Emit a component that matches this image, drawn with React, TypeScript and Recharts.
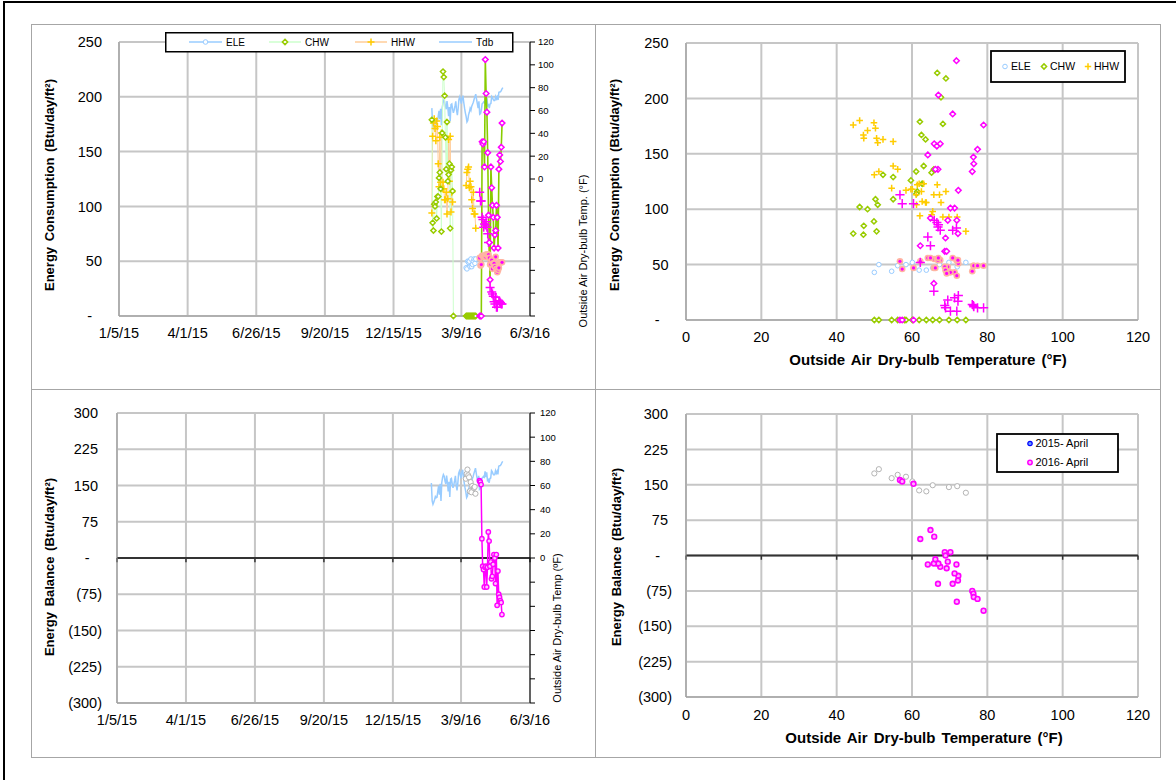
import React from "react";
import {
  ComposedChart,
  Line,
  Scatter,
  XAxis,
  YAxis,
  CartesianGrid,
  ReferenceLine,
} from "recharts";

// ---- axis ticks ----
const dateTicks = ["1/5/15", "4/1/15", "6/26/15", "9/20/15", "12/15/15", "3/9/16", "6/3/16"];
const tempTicks = [0, 20, 40, 60, 80, 100, 120];
const energyTicks = [0, 50, 100, 150, 200, 250];
const balanceTicks = [-300, -225, -150, -75, 0, 75, 150, 225, 300];
const tdbAxisTicks = [-120, -100, -80, -60, -40, -20, 0, 20, 40, 60, 80, 100, 120];

// ---- daily outside air dry-bulb temperature (°F), 2/1/16 .. 4/30/16 ----
const firstDay = "2/1/16";
const tdb = [
  62.1, 47.2, 44.4, 46.1, 48.2, 50.9, 49.9, 50.3, 55.0, 59.7, 52.3, 61.4, 47.1, 62.5,
  66.7, 69.0, 67.7, 63.6, 61.1, 68.2, 62.7, 55.0, 63.1, 50.6, 65.2, 65.8, 61.2, 58.0,
  60.5,
  64, 68, 60, 56, 62, 70, 72, 69, 66, 71, 73, 67, 62, 58,
  54.6, 50.0, 51.2, 56.2, 58.4, 61.9, 60.1, 63.8, 65.5, 67.3, 69.8, 72.0, 74.3,
  70, 66, 62, 68,
  56.8, 57.4, 60.4, 65.9, 66.6, 67.5, 66.9, 71.8, 67.0, 70.8, 64.2, 64.9, 62.2, 65.8,
  66.2, 72.3, 71.3, 69.5, 68.7, 68.9, 72.2, 70.2, 71.9, 69.2, 76.0, 76.3, 76.4, 77.4,
  79.0, 80,
];

// ---- February (Btu/day/ft²) ----
const febStart = "2/1/16";
const febChw = [179, 85, 78, 102, 100, 104, 89, 109, 109, 126, 131, 116, 77, 167, 223, 218, 201, 163, 134, 177, 123, 129, 139, 80, 133, 136, 114, 0];
const febHhw = [94, 164, 176, 180, 171, 160, 178, 173, 139, 118, 163, 122, 167, 116, 122, 116, 106, 106, 113, 93, 107, 161, 123, 164, 95, 113, 104, null];

// ---- March ----
const marStart = "3/15/16";
const marEle = [44, 43, 50, 49, 50, 45, 52, 45, 47, 50, 52, 48, 52];
const marChw = [0, 0, 0, 0, 0, 0, 0, 0, 0, 0, 0, 0, 0];
const marHhw = [119, 131, 134, 136, 117, 123, 118, 106, 98, 113, 93, 93, 80];
const marBal = [164, 174, 183, 171, 167, 138, 157, 136, 149, null, 145, 147, 133];

// ---- April (highlighted) ----
const aprStart = "4/1/16";
const aprEle = [53, 46, 47, 55, 55, 54, 54, 54, 56, 56, 56, 56, 53, 47, 47, 51, 43, 48, 48, 45, 54, 43, 40, 42, 44, 49, 49, 49, 49];
const aprChw = [0, 0, 0, 159, 157, 159, 136, 234, 203, 186, 149, 92, 67, 33, 136, 117, 101, 90, 62, 74, 78, 101, 90, 62, 134, 147, 141, 154, 176];
const aprHhw = [113, 105, 105, 90, 88, 81, 84, 83, 86, 81, 75, 67, 52, 26, null, 22, 20, 18, 13, 11, 17, 8, 8, null, 14, 13, 12, 11, 11];
const aprBal = [160, 157, 152, 40, -17, -24, -60, -19, -17, -60, -19, 54, 35, -17, -8, -43, -38, -13, 7, 0, -53, 7, -98, -27, -75, -81, -88, -92, -117];

const FONT = "'Liberation Sans', Arial, Helvetica, sans-serif";
const MAG = "#ff00ff";

const dayOf = (s: string) => {
  const [m, d, y] = s.split("/").map(Number);
  return Date.UTC(2000 + y, m - 1, d) / 86400000;
};
const dayTicks = dateTicks.map(dayOf);
const fmtDate = (d: number) => dateTicks[dayTicks.indexOf(d)] ?? "";

const d0 = dayOf(firstDay);
const pick = (arr: (number | null)[], start: string, i: number) => {
  const k = i - (dayOf(start) - d0);
  return k >= 0 && k < arr.length ? arr[k] : null;
};

const rows = tdb.map((t, i) => ({
  day: d0 + i,
  tdb: t,
  ele: pick(marEle, marStart, i),
  chw: pick(febChw, febStart, i) ?? pick(marChw, marStart, i),
  hhw: pick(febHhw, febStart, i) ?? pick(marHhw, marStart, i),
  bal: pick(marBal, marStart, i),
  eleApr: pick(aprEle, aprStart, i),
  chwApr: pick(aprChw, aprStart, i),
  hhwApr: pick(aprHhw, aprStart, i),
  balApr: pick(aprBal, aprStart, i),
}));

const pts = (key: string) =>
  rows.filter((r: any) => r[key] != null).map((r: any) => ({ x: r.tdb, y: r[key] }));

// ---- marker shapes ----
const Diamond = ({ cx, cy, r = 3, stroke }: any) => (
  <path d={`M${cx},${cy - r}L${cx + r},${cy}L${cx},${cy + r}L${cx - r},${cy}Z`} stroke={stroke} strokeWidth={1.5} fill="#fff" />
);
const Plus = ({ cx, cy, r = 3.5, stroke, w = 1.5 }: any) => (
  <path d={`M${cx - r},${cy}H${cx + r}M${cx},${cy - r}V${cy + r}`} stroke={stroke} strokeWidth={w} fill="none" />
);
const Ring = ({ cx, cy, r = 2.5, stroke, fill = "#fff", w = 1 }: any) => (
  <circle cx={cx} cy={cy} r={r} stroke={stroke} strokeWidth={w} fill={fill} />
);
const Halo = ({ cx, cy }: any) => (
  <g>
    <circle cx={cx} cy={cy} r={3.3} fill="#ffb4a2" />
    <circle cx={cx} cy={cy} r={1.6} fill={MAG} />
  </g>
);

const dot = (render: (cx: number, cy: number) => React.ReactNode) => (p: any) => (
  <g key={`d${p.index}`}>
    {p.value == null || p.cy == null || Number.isNaN(p.cy) ? null : render(p.cx, p.cy)}
  </g>
);

const tickStyle = { fontSize: 14.5, fill: "#000", fontFamily: FONT };

const energyTick = (dash: number) => (p: any) => {
  const v = p.payload.value;
  return (
    <text x={v === 0 ? p.x - dash : p.x} y={p.y} dy="0.36em" textAnchor="end" fontSize={14.5} fontFamily={FONT} fill="#000">
      {v === 0 ? "-" : v}
    </text>
  );
};

const balanceTick = (dash: number) => (p: any) => {
  const v = p.payload.value;
  const s = v === 0 ? "-" : v < 0 ? `(${-v})` : `${v}`;
  const x = v === 0 ? p.x - dash : v < 0 ? p.x : p.x - 4;
  return (
    <text x={x} y={p.y} dy="0.36em" textAnchor="end" fontSize={14.5} fontFamily={FONT} fill="#000">
      {s}
    </text>
  );
};

const rightTicks = {
  yAxisId: "r",
  orientation: "right" as const,
  domain: [-120, 120],
  ticks: tdbAxisTicks,
  interval: 0 as const,
  width: 40,
  tickSize: 5,
  axisLine: { stroke: "#000" },
  tickLine: { stroke: "#000" },
  tick: { fontSize: 9.5, fill: "#000", fontFamily: FONT },
  tickFormatter: (v: number) => (v < 0 ? "" : String(v)),
};

const GRID = "#c6c6c6";

function EnergyTimeChart() {
  return (
    <ComposedChart width={564} height={364} data={rows} margin={{ top: 18, right: 25, bottom: 0, left: 0 }}>
      <CartesianGrid stroke={GRID} strokeWidth={2} />
      <XAxis dataKey="day" type="number" domain={[dayTicks[0], dayTicks[6]]} ticks={dayTicks} interval={0}
        tickFormatter={fmtDate} height={72} tickLine={false} tickSize={0} tickMargin={12}
        axisLine={{ stroke: "#999" }} tick={tickStyle} />
      <YAxis domain={[0, 250]} ticks={energyTicks} interval={0} width={88} tickLine={false}
        tickSize={0} tickMargin={17} axisLine={{ stroke: "#999" }} tick={energyTick(10)} />
      <YAxis {...rightTicks} tickMargin={3} />
      <Line yAxisId="r" dataKey="tdb" stroke="#99ccff" strokeWidth={1.5} dot={false} activeDot={false} isAnimationActive={false} />
      <Line dataKey="hhw" stroke="#ffcc99" strokeWidth={1} activeDot={false} isAnimationActive={false}
        dot={dot((x, y) => <Plus cx={x} cy={y} r={3.5} stroke="#ffcc00" />)} />
      <Line dataKey="chw" stroke="#ccffcc" strokeWidth={1} activeDot={false} isAnimationActive={false}
        dot={dot((x, y) => <Diamond cx={x} cy={y} r={2.6} stroke="#99cc00" />)} />
      <Line dataKey="ele" stroke="#99ccff" strokeWidth={1} activeDot={false} isAnimationActive={false}
        dot={dot((x, y) => <Ring cx={x} cy={y} r={2.3} stroke="#99ccff" />)} />
      <Line dataKey="hhwApr" stroke="#ff9a3c" strokeWidth={1} activeDot={false} isAnimationActive={false}
        dot={dot((x, y) => <Plus cx={x} cy={y} r={4.5} stroke={MAG} />)} />
      <Line dataKey="chwApr" stroke="#88cc00" strokeWidth={1.6} activeDot={false} isAnimationActive={false}
        dot={dot((x, y) => <Diamond cx={x} cy={y} r={2.8} stroke={MAG} />)} />
      <Line dataKey="eleApr" stroke="#ffa3c4" strokeWidth={1} activeDot={false} isAnimationActive={false}
        dot={dot((x, y) => <Halo cx={x} cy={y} />)} />
    </ComposedChart>
  );
}

function EnergyTempChart() {
  return (
    <ComposedChart width={566} height={364} margin={{ top: 19, right: 23, bottom: 0, left: 0 }}>
      <CartesianGrid stroke={GRID} strokeWidth={2} />
      <XAxis dataKey="x" type="number" domain={[0, 120]} ticks={tempTicks} interval={0} height={68}
        tickLine={false} tickSize={0} tickMargin={12} axisLine={{ stroke: "#999" }} tick={tickStyle} />
      <YAxis dataKey="y" type="number" domain={[0, 250]} ticks={energyTicks} interval={0} width={91}
        tickLine={false} tickSize={0} tickMargin={17.5} axisLine={{ stroke: "#999" }} tick={energyTick(9)} />
      <Scatter data={pts("ele")} isAnimationActive={false} shape={(p: any) => <Ring cx={p.cx} cy={p.cy} r={2.3} stroke="#99ccff" />} />
      <Scatter data={pts("chw")} isAnimationActive={false} shape={(p: any) => <Diamond cx={p.cx} cy={p.cy} r={2.6} stroke="#99cc00" />} />
      <Scatter data={pts("hhw")} isAnimationActive={false} shape={(p: any) => <Plus cx={p.cx} cy={p.cy} r={3.3} stroke="#ffcc00" />} />
      <Scatter data={pts("eleApr")} isAnimationActive={false} shape={(p: any) => <Halo cx={p.cx} cy={p.cy} />} />
      <Scatter data={pts("chwApr")} isAnimationActive={false} shape={(p: any) => <Diamond cx={p.cx} cy={p.cy} r={2.8} stroke={MAG} />} />
      <Scatter data={pts("hhwApr")} isAnimationActive={false} shape={(p: any) => <Plus cx={p.cx} cy={p.cy} r={4.6} stroke={MAG} />} />
    </ComposedChart>
  );
}

function BalanceTimeChart() {
  return (
    <ComposedChart width={564} height={368} data={rows} margin={{ top: 24, right: 25, bottom: 0, left: 0 }}>
      <CartesianGrid stroke={GRID} strokeWidth={2} />
      <XAxis dataKey="day" type="number" domain={[dayTicks[0], dayTicks[6]]} ticks={dayTicks} interval={0}
        tickFormatter={fmtDate} height={54} tickLine={false} tickSize={0} tickMargin={12}
        axisLine={{ stroke: "#999" }} tick={tickStyle} />
      <YAxis domain={[-300, 300]} ticks={balanceTicks} interval={0} width={86} tickLine={false}
        tickSize={0} tickMargin={15} axisLine={{ stroke: "#999" }} tick={balanceTick(12.5)} />
      <YAxis {...rightTicks} tickMargin={5} />
      <ReferenceLine y={0} stroke="#333" strokeWidth={2} />
      {dayTicks.map((d) => (
        <ReferenceLine key={d} segment={[{ x: d, y: 0 }, { x: d, y: -9 }]} stroke="#333" strokeWidth={1.5} />
      ))}
      <Line yAxisId="r" dataKey="tdb" stroke="#99ccff" strokeWidth={1.5} dot={false} activeDot={false} isAnimationActive={false} />
      <Line dataKey="bal" stroke="#d4d4d4" strokeWidth={1} activeDot={false} isAnimationActive={false}
        dot={dot((x, y) => <Ring cx={x} cy={y} r={2.6} stroke="#b4b4b4" />)} />
      <Line dataKey="balApr" stroke={MAG} strokeWidth={1.5} activeDot={false} isAnimationActive={false}
        dot={dot((x, y) => <Ring cx={x} cy={y} r={2.2} stroke={MAG} fill="#ffc4ff" w={1.4} />)} />
    </ComposedChart>
  );
}

function BalanceTempChart() {
  return (
    <ComposedChart width={566} height={368} margin={{ top: 25, right: 23, bottom: 0, left: 0 }}>
      <CartesianGrid stroke={GRID} strokeWidth={2} />
      <XAxis dataKey="x" type="number" domain={[0, 120]} ticks={tempTicks} interval={0} height={60}
        tickLine={false} tickSize={0} tickMargin={13} axisLine={{ stroke: "#999" }} tick={tickStyle} />
      <YAxis dataKey="y" type="number" domain={[-300, 300]} ticks={balanceTicks} interval={0} width={91}
        tickLine={false} tickSize={0} tickMargin={14} axisLine={{ stroke: "#999" }} tick={balanceTick(12)} />
      <ReferenceLine y={0} stroke="#333" strokeWidth={2} />
      {tempTicks.map((t) => (
        <ReferenceLine key={t} segment={[{ x: t, y: 0 }, { x: t, y: -9 }]} stroke="#333" strokeWidth={1.5} />
      ))}
      <Scatter data={pts("bal")} isAnimationActive={false} shape={(p: any) => <Ring cx={p.cx} cy={p.cy} r={2.6} stroke="#b4b4b4" />} />
      <Scatter data={pts("balApr")} isAnimationActive={false} shape={(p: any) => <Ring cx={p.cx} cy={p.cy} r={2.4} stroke={MAG} fill="#ffb0ff" w={1.6} />} />
    </ComposedChart>
  );
}

const Title = ({ x, y, text, size, bold = false, vertical = false }: any) => (
  <div
    style={{
      position: "absolute",
      left: x,
      top: y,
      transform: `translate(-50%, -50%)${vertical ? " rotate(-90deg)" : ""}`,
      whiteSpace: "nowrap",
      fontSize: size,
      fontWeight: bold ? 700 : 400,
      fontFamily: FONT,
      color: "#000",
      wordSpacing: bold ? 2 : 0,
    }}
  >
    {text}
  </div>
);

const Panel = ({ left, top, width, height }: any) => (
  <div style={{ position: "absolute", left, top, width, height, border: "1px solid #a6a6a6", boxSizing: "border-box" }} />
);

const lt = { fontSize: 10, fontFamily: FONT, fill: "#000" };

export default function App() {
  return (
    <div style={{ position: "absolute", left: 0, top: 0, width: 1176, height: 780, background: "#fff", overflow: "hidden" }}>
      <div style={{ position: "absolute", left: 3, top: 1, width: 1200, height: 800, border: "2px solid #000" }} />
      <Panel left={31} top={24} width={565} height={366} />
      <Panel left={595} top={24} width={566} height={366} />
      <Panel left={31} top={389} width={565} height={369} />
      <Panel left={595} top={389} width={566} height={369} />

      <div style={{ position: "absolute", left: 31, top: 24 }}><EnergyTimeChart /></div>
      <div style={{ position: "absolute", left: 595, top: 24 }}><EnergyTempChart /></div>
      <div style={{ position: "absolute", left: 31, top: 389 }}><BalanceTimeChart /></div>
      <div style={{ position: "absolute", left: 595, top: 389 }}><BalanceTempChart /></div>

      <Title x={49} y={185} text="Energy Consumption (Btu/day/ft²)" size={13} bold vertical />
      <Title x={583} y={251} text="Outside Air Dry-bulb Temp. (°F)" size={11} vertical />
      <Title x={614} y={185} text="Energy Consumption (Btu/day/ft²)" size={13} bold vertical />
      <Title x={928} y={359} text="Outside Air Dry-bulb Temperature (°F)" size={15} bold />
      <Title x={49} y={567} text="Energy Balance (Btu/day/ft²)" size={13} bold vertical />
      <Title x={557} y={628} text="Outside Air Dry-bulb Temp (ºF)" size={11} vertical />
      <Title x={616} y={557} text="Energy Balance (Btu/day/ft²)" size={13} bold vertical />
      <Title x={924} y={737} text="Outside Air Dry-bulb Temperature (°F)" size={15} bold />

      <svg style={{ position: "absolute", left: 165, top: 32 }} width={349} height={21}>
        <rect x={0.75} y={0.75} width={347} height={19} fill="#fff" stroke="#000" strokeWidth={1.5} />
        <line x1={24} x2={57} y1={10} y2={10} stroke="#99ccff" strokeWidth={1.5} />
        <Ring cx={40.5} cy={10} r={2.3} stroke="#99ccff" />
        <text x={61} y={10} dy="0.35em" {...lt}>ELE</text>
        <line x1={104} x2={136} y1={10} y2={10} stroke="#ccffcc" strokeWidth={1.5} />
        <Diamond cx={120} cy={10} r={2.6} stroke="#99cc00" />
        <text x={140} y={10} dy="0.35em" {...lt}>CHW</text>
        <line x1={190} x2={222} y1={10} y2={10} stroke="#ffcc99" strokeWidth={1.5} />
        <Plus cx={206} cy={10} r={3.5} stroke="#ffcc00" />
        <text x={226} y={10} dy="0.35em" {...lt}>HHW</text>
        <line x1={274} x2={307} y1={10} y2={10} stroke="#99ccff" strokeWidth={1.5} />
        <text x={311} y={10} dy="0.35em" {...lt}>Tdb</text>
      </svg>

      <svg style={{ position: "absolute", left: 990, top: 50 }} width={137} height={34}>
        <rect x={1} y={1} width={134} height={31} fill="#fff" stroke="#000" strokeWidth={1.8} />
        <Ring cx={15} cy={16.5} r={2.3} stroke="#99ccff" />
        <text x={21} y={16.5} dy="0.35em" {...lt} fontSize={10.5}>ELE</text>
        <Diamond cx={54} cy={16.5} r={2.6} stroke="#99cc00" />
        <text x={60} y={16.5} dy="0.35em" {...lt} fontSize={10.5}>CHW</text>
        <Plus cx={98} cy={16.5} r={3.2} stroke="#ffcc00" />
        <text x={104} y={16.5} dy="0.35em" {...lt} fontSize={10.5}>HHW</text>
      </svg>

      <svg style={{ position: "absolute", left: 996, top: 433 }} width={124} height={41}>
        <rect x={1} y={1} width={121} height={38} fill="#fff" stroke="#000" strokeWidth={1.8} />
        <Ring cx={34} cy={10.5} r={2.2} stroke="#0000ff" fill="#6699ff" w={1.2} />
        <text x={39.5} y={10.5} dy="0.35em" {...lt} fontSize={11}>2015- April</text>
        <Ring cx={34} cy={29.5} r={2.2} stroke={MAG} fill="#ffb0ff" w={1.5} />
        <text x={39.5} y={29.5} dy="0.35em" {...lt} fontSize={11}>2016- April</text>
      </svg>
    </div>
  );
}
